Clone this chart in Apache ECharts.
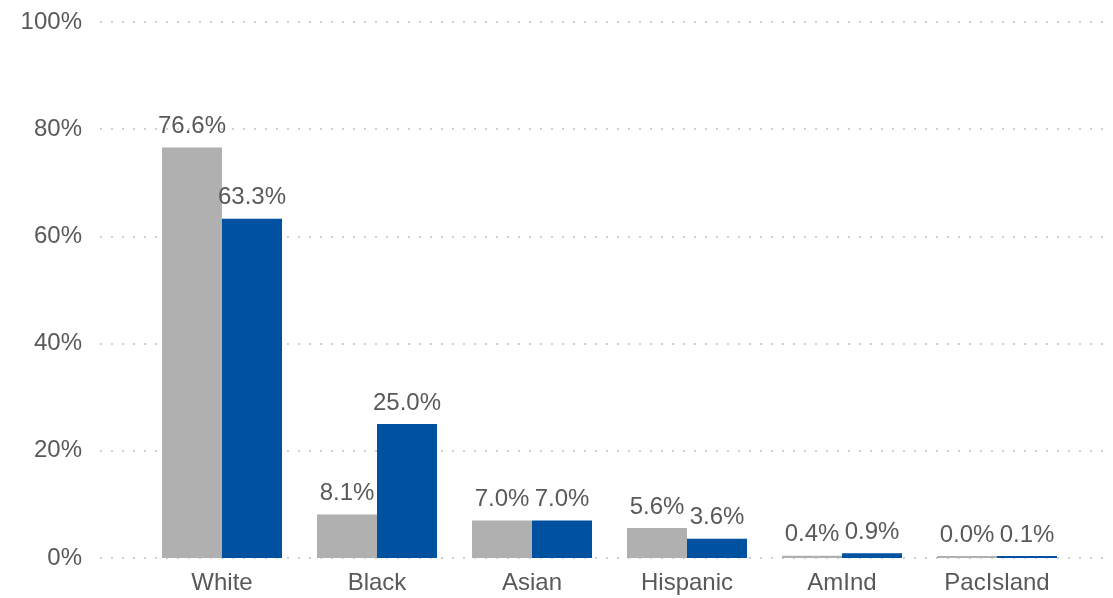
<!DOCTYPE html>
<html>
<head>
<meta charset="utf-8">
<script src="https://cdn.jsdelivr.net/npm/echarts@6/dist/echarts.min.js"></script>
<style>
  html, body { margin: 0; padding: 0; background: #fff; }
  #chart { width: 1113px; height: 598px; }
</style>
</head>
<body>
<div id="chart"></div>
<script>
var categories = ["White", "Black", "Asian", "Hispanic", "AmInd", "PacIsland"];
var seriesA = [76.6, 8.1, 7.0, 5.6, 0.4, 0.0];
var seriesB = [63.3, 25.0, 7.0, 3.6, 0.9, 0.1];
var yTicks = [0, 20, 40, 60, 80, 100];

var textColor = "#595959";
var font = "Liberation Sans, Arial, sans-serif";

var chart = echarts.init(document.getElementById("chart"));

function barLabel() {
  return {
    show: true,
    position: "top",
    distance: 9,
    color: textColor,
    fontSize: 24,
    fontFamily: font,
    formatter: function (p) {
      return p.value.toFixed(1) + "%";
    }
  };
}

var option = {
  animation: false,
  grid: [
    // background grid: dotted lines run wider than the bars
    { left: 100, right: 3, top: 22, bottom: 40 },
    { left: 144.5, right: 38.5, top: 22, bottom: 40 }
  ],
  xAxis: [
    { gridIndex: 0, type: "value", show: false, min: 0, max: 1 },
    {
      gridIndex: 1,
      type: "category",
      data: categories,
      axisLine: { show: false },
      axisTick: { show: false },
      axisLabel: {
        color: textColor,
        fontSize: 24,
        fontFamily: font,
        margin: 13
      }
    }
  ],
  yAxis: [
    {
      gridIndex: 0,
      type: "value",
      min: yTicks[0],
      max: yTicks[yTicks.length - 1],
      interval: 20,
      axisLine: { show: false },
      axisTick: { show: false },
      axisLabel: {
        color: textColor,
        fontSize: 24,
        fontFamily: font,
        margin: 18,
        formatter: "{value}%"
      },
      splitLine: {
        show: true,
        lineStyle: { type: [2, 9], color: "#cfcfcf", width: 2 }
      }
    },
    {
      gridIndex: 1,
      type: "value",
      min: 0,
      max: 100,
      show: false,
      splitLine: { show: false }
    }
  ],
  series: [
    {
      type: "bar",
      xAxisIndex: 1,
      yAxisIndex: 1,
      data: seriesA,
      barWidth: 60,
      barGap: "0%",
      barMinHeight: 2,
      itemStyle: { color: "#b0b0b0" },
      label: barLabel()
    },
    {
      type: "bar",
      xAxisIndex: 1,
      yAxisIndex: 1,
      data: seriesB,
      barWidth: 60,
      barGap: "0%",
      barMinHeight: 2,
      itemStyle: { color: "#0052a0" },
      label: barLabel()
    }
  ]
};

chart.setOption(option);
</script>
</body>
</html>
